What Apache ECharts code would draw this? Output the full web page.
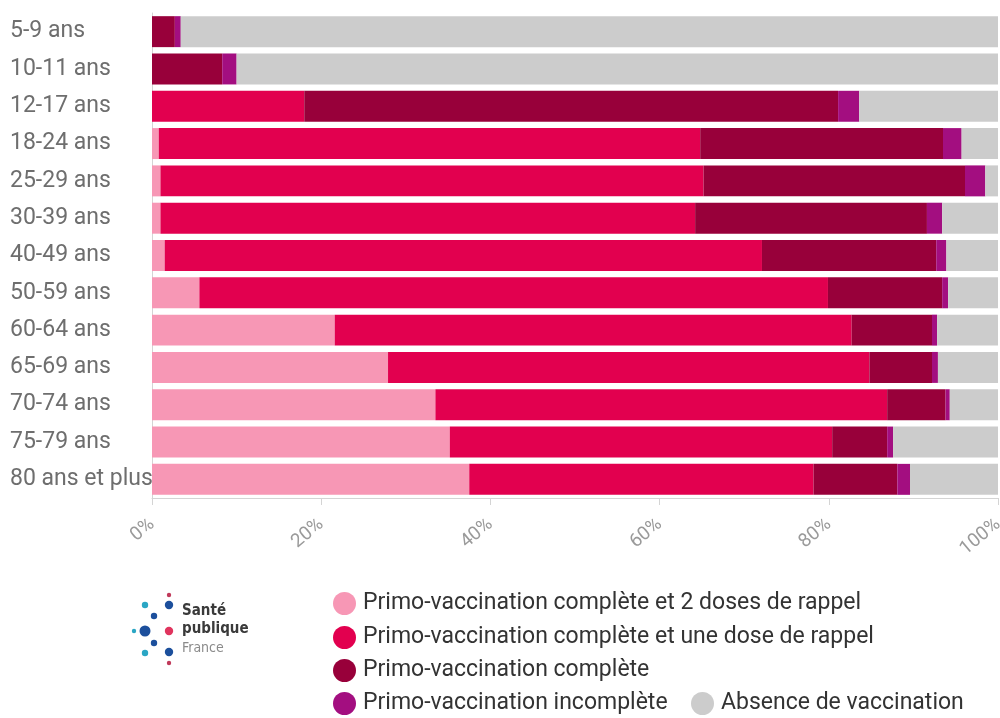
<!DOCTYPE html>
<html>
<head>
<meta charset="utf-8">
<script src="https://cdn.jsdelivr.net/npm/echarts@6/dist/echarts.min.js"></script>
<style>
html,body{margin:0;padding:0;background:#fff;}
#chart{width:1000px;height:718px;}
</style>
</head>
<body>
<div id="chart"></div>
<script>
const categories = ["5-9 ans","10-11 ans","12-17 ans","18-24 ans","25-29 ans","30-39 ans","40-49 ans","50-59 ans","60-64 ans","65-69 ans","70-74 ans","75-79 ans","80 ans et plus"];
const seriesNames = ["Primo-vaccination complète et 2 doses de rappel","Primo-vaccination complète et une dose de rappel","Primo-vaccination complète","Primo-vaccination incomplète","Absence de vaccination"];
const deuxRappels   = [0, 0, 0, 0.8, 1.0, 1.0, 1.5, 5.6, 21.6, 27.9, 33.5, 35.2, 37.5];
const unRappel      = [0, 0, 18.0, 64.0, 64.2, 63.2, 70.6, 74.3, 61.1, 56.9, 53.4, 45.2, 40.7];
const complete      = [2.7, 8.3, 63.1, 28.7, 30.9, 27.4, 20.6, 13.5, 9.5, 7.4, 6.9, 6.5, 9.9];
const incomplete    = [0.7, 1.7, 2.5, 2.2, 2.4, 1.8, 1.2, 0.7, 0.6, 0.7, 0.5, 0.7, 1.5];
const absence       = [96.6, 90.0, 16.4, 4.3, 1.5, 6.6, 6.1, 5.9, 7.2, 7.1, 5.7, 12.4, 10.4];
const xTicks = [0, 20, 40, 60, 80, 100];

const colors = ["#F797B5", "#E2004F", "#98003A", "#A30E80", "#CCCCCC"];
const dataSets = [deuxRappels, unRappel, complete, incomplete, absence];

const chart = echarts.init(document.getElementById('chart'), null, {renderer: 'canvas'});

const series = seriesNames.map((n, i) => ({
  name: n,
  type: 'bar',
  stack: 'total',
  barCategoryGap: '17%',
  itemStyle: {color: colors[i]},
  emphasis: {disabled: true},
  data: dataSets[i]
}));

const legendBase = {
  orient: 'horizontal',
  icon: 'circle',
  itemWidth: 23,
  itemHeight: 23,
  itemGap: 16,
  textStyle: {fontFamily: 'Roboto', fontSize: 23, color: '#333', padding: [0,0,0,2]},
  selectedMode: false
};
const legendPos = [
  {left: 328, top: 587, data: [seriesNames[0]]},
  {left: 328, top: 621, data: [seriesNames[1]]},
  {left: 328, top: 654, data: [seriesNames[2]]},
  {left: 328, top: 687, data: [seriesNames[3]]},
  {left: 686, top: 687, data: [seriesNames[4]]}
];

// logo dots
const dots = [
  [169,595,2.2,'#c0395a'],
  [145,605,3.2,'#2aa6c4'],[169,605,4.2,'#1c4f9c'],
  [154,616,3.2,'#1c4f9c'],
  [134,631,2.2,'#2aa6c4'],[145,631,5.5,'#1c4f9c'],[169,631,4.2,'#e0345e'],
  [154,643,3.2,'#1c4f9c'],
  [145,653,3.2,'#2aa6c4'],[169,652,4.2,'#1c4f9c'],
  [169,663,2.2,'#c0395a']
];
const graphics = dots.map(d => ({type:'circle', shape:{cx:d[0], cy:d[1], r:d[2]}, style:{fill:d[3]}, silent:true}));
graphics.push(
  {type:'text', left:182, top:604, style:{text:'Santé', font:'bold 15px "DejaVu Sans Condensed", "Noto Sans", sans-serif', fill:'#3a3a3a'}},
  {type:'text', left:182, top:622, style:{text:'publique', font:'bold 15px "DejaVu Sans Condensed", "Noto Sans", sans-serif', fill:'#3a3a3a'}},
  {type:'text', left:182, top:641, style:{text:'France', font:'14px "DejaVu Sans Condensed", "Noto Sans", sans-serif', fill:'#8a8a8a'}}
);

chart.setOption({
  animation: false,
  backgroundColor: '#fff',
  grid: {left: 152, right: 2, top: 13, bottom: 220, containLabel: false, outerBoundsMode: 'none'},
  xAxis: {
    type: 'value',
    min: 0, max: 100, interval: 20,
    axisLine: {show: true, lineStyle: {color: '#d4d4d4'}},
    axisTick: {show: true, length: 7, lineStyle: {color: '#d4d4d4'}},
    splitLine: {show: false},
    axisLabel: {
      rotate: 40, margin: 24,
      fontFamily: 'Roboto', fontSize: 19, color: '#9a9a9a',
      formatter: v => xTicks.indexOf(v) >= 0 ? v + '%' : ''
    }
  },
  yAxis: {
    type: 'category',
    data: categories,
    inverse: true,
    axisLine: {show: true, lineStyle: {color: '#d4d4d4'}},
    axisTick: {show: false},
    axisLabel: {
      align: 'left', margin: 142,
      fontFamily: 'Roboto', fontSize: 23, color: '#6e6e6e'
    }
  },
  legend: legendPos.map(p => Object.assign({}, legendBase, p)),
  graphic: graphics,
  series: series
});
</script>
</body>
</html>
